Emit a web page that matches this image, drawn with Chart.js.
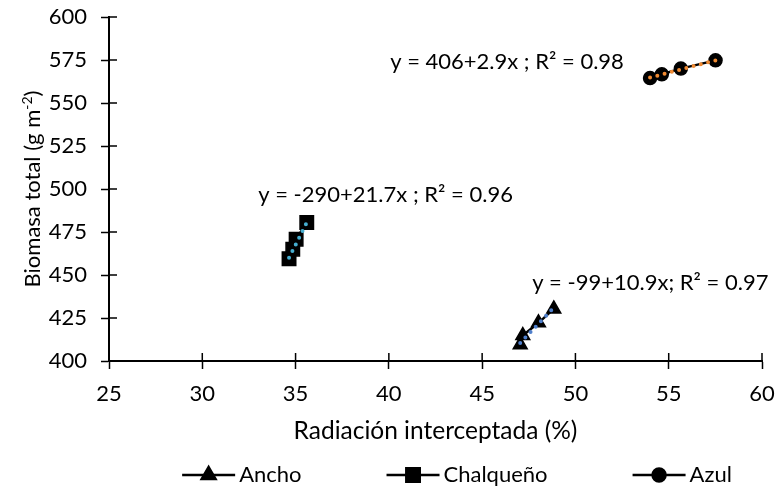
<!DOCTYPE html>
<html>
<head>
<meta charset="utf-8">
<script src="https://cdn.jsdelivr.net/npm/chart.js@4.4.0/dist/chart.umd.min.js"></script>
<style>
  html, body { margin: 0; padding: 0; background: #fff; }
  #wrap { width: 776px; height: 488px; }
</style>
</head>
<body>
<div id="wrap"><canvas id="biomasaChart"></canvas></div>
<script>
// Series names
const seriesNames = ['Ancho', 'Chalqueño', 'Azul'];

// Ancho
const anchoX = [47.04, 47.18, 48.02, 48.84];
const anchoY = [409.5, 414.8, 422.2, 430.3];
// Chalqueño
const chalX = [34.65, 34.85, 35.03, 35.6];
const chalY = [459.5, 465, 470.8, 480.5];
// Azul
const azulX = [54.0, 54.63, 55.65, 57.51];
const azulY = [564.5, 566.7, 570.0, 574.8];

// trend line end points
const anchoTrendX = [47.04, 48.84];
const anchoTrendY = [410.5, 431];
const chalTrendX = [34.65, 35.6];
const chalTrendY = [460, 480.5];
const azulTrendX = [54.0, 57.51];
const azulTrendY = [564.8, 574.8];

// regression labels
const equations = ['y = -99+10.9x; R² = 0.97', 'y = -290+21.7x ; R² = 0.96', 'y = 406+2.9x ; R² = 0.98'];

// axis ticks
const xTicks = [25, 30, 35, 40, 45, 50, 55, 60];
const yTicks = [400, 425, 450, 475, 500, 525, 550, 575, 600];

const FONT = 'Lato';
const FS = 22;
Chart.defaults.font.family = FONT;
Chart.defaults.font.size = FS;
Chart.defaults.color = '#000';

function pts(xs, ys) {
  return xs.map((x, i) => ({ x: x, y: ys[i] }));
}

const markerStyles = ['triangle', 'rect', 'circle'];
const markerRadius = [8, 9.5, 6.5];
const trendColors = ['#4F7FCB', '#46AED0', '#F08A32'];

const seriesX = [anchoX, chalX, azulX];
const seriesY = [anchoY, chalY, azulY];
const trendX = [anchoTrendX, chalTrendX, azulTrendX];
const trendY = [anchoTrendY, chalTrendY, azulTrendY];

const datasets = [];
// trend lines first so they are painted over the markers
trendX.forEach((tx, i) => {
  datasets.push({
    label: seriesNames[i] + ' trend',
    data: pts(tx, trendY[i]),
    showLine: true,
    borderColor: trendColors[i],
    borderWidth: 4,
    borderDash: [0, 7.5],
    borderCapStyle: 'round',
    pointRadius: 0,
    fill: false
  });
});
seriesX.forEach((sx, i) => {
  datasets.push({
    label: seriesNames[i],
    data: pts(sx, seriesY[i]),
    showLine: true,
    borderColor: '#000',
    borderWidth: 2.5,
    pointStyle: markerStyles[i],
    pointRadius: markerRadius[i],
    pointBackgroundColor: '#000',
    pointBorderColor: '#000',
    pointBorderWidth: 1.5,
    fill: false
  });
});

// ticks that cross the axis line (the library only draws the outside half)
const crossTicks = {
  id: 'crossTicks',
  beforeDatasetsDraw(chart) {
    const { ctx, chartArea, scales } = chart;
    ctx.save();
    ctx.strokeStyle = '#000';
    ctx.lineWidth = 1.5;
    ctx.beginPath();
    xTicks.forEach(v => {
      const px = scales.x.getPixelForValue(v);
      ctx.moveTo(px, chartArea.bottom);
      ctx.lineTo(px, chartArea.bottom - 8);
    });
    yTicks.forEach(v => {
      const py = scales.y.getPixelForValue(v);
      ctx.moveTo(chartArea.left, py);
      ctx.lineTo(chartArea.left + 8, py);
    });
    ctx.stroke();
    ctx.restore();
  }
};

// regression equations next to each group
const eqLabels = {
  id: 'eqLabels',
  afterDatasetsDraw(chart, args, opts) {
    const { ctx, scales } = chart;
    ctx.save();
    ctx.font = FS + 'px ' + FONT;
    ctx.fillStyle = '#000';
    ctx.textBaseline = 'middle';
    ctx.textAlign = 'left';
    opts.anchors.forEach((a, i) => {
      ctx.fillText(equations[i], scales.x.getPixelForValue(a[0]), scales.y.getPixelForValue(a[1]));
    });
    ctx.restore();
  }
};

// y axis title with a superscript
const yTitle = {
  id: 'yTitle',
  afterDraw(chart, args, opts) {
    const { ctx, chartArea } = chart;
    const main1 = 'Biomasa total (g m';
    const sup = '-2';
    const main2 = ')';
    ctx.save();
    ctx.fillStyle = '#000';
    ctx.textBaseline = 'alphabetic';
    ctx.font = FS + 'px ' + FONT;
    const w1 = ctx.measureText(main1).width;
    const w3 = ctx.measureText(main2).width;
    ctx.font = '14px ' + FONT;
    const w2 = ctx.measureText(sup).width;
    const total = w1 + w2 + w3;
    ctx.translate(opts.x, (chartArea.top + chartArea.bottom) / 2);
    ctx.rotate(-Math.PI / 2);
    let x = -total / 2;
    const base = 7;
    ctx.font = FS + 'px ' + FONT;
    ctx.fillText(main1, x, base);
    x += w1;
    ctx.font = '14px ' + FONT;
    ctx.fillText(sup, x, base - 8);
    x += w2;
    ctx.font = FS + 'px ' + FONT;
    ctx.fillText(main2, x, base);
    ctx.restore();
  }
};

// legend: line with marker, then the name
const lineLegend = {
  id: 'lineLegend',
  afterDraw(chart, args, opts) {
    const { ctx } = chart;
    const lineW = 53, gapText = 4, gapItem = 85;
    ctx.save();
    ctx.font = FS + 'px ' + FONT;
    const widths = seriesNames.map(n => lineW + gapText + ctx.measureText(n).width);
    const total = widths.reduce((a, b) => a + b, 0) + gapItem * (widths.length - 1);
    let x = opts.centerX - total / 2;
    const y = opts.y;
    seriesNames.forEach((n, i) => {
      ctx.strokeStyle = '#000';
      ctx.lineWidth = 2.5;
      ctx.beginPath();
      ctx.moveTo(x, y);
      ctx.lineTo(x + lineW, y);
      ctx.stroke();
      ctx.fillStyle = '#000';
      Chart.helpers.drawPoint(ctx, {
        pointStyle: markerStyles[i],
        radius: markerRadius[i],
        borderWidth: 1.5,
        rotation: 0
      }, x + lineW / 2, y);
      ctx.fillStyle = '#000';
      ctx.textBaseline = 'middle';
      ctx.textAlign = 'left';
      ctx.fillText(n, x + lineW + gapText, y);
      x += widths[i] + gapItem;
    });
    ctx.restore();
  }
};

const biomasaCanvas = document.getElementById('biomasaChart');

const biomasaChart = new Chart(biomasaCanvas, {
  type: 'scatter',
  data: { datasets: datasets },
  options: {
    responsive: true,
    maintainAspectRatio: false,
    animation: false,
    layout: { padding: { top: 17, right: 14, bottom: 40, left: 0 } },
    plugins: {
      legend: { display: false },
      tooltip: { enabled: false },
      eqLabels: { anchors: [[47.68, 445.2], [33.0, 496.4], [40.07, 573.8]] },
      yTitle: { x: 33 },
      lineLegend: { centerX: 457, y: 475 }
    },
    scales: {
      x: {
        type: 'linear',
        min: 25,
        max: 60,
        afterBuildTicks(scale) { scale.ticks = xTicks.map(v => ({ value: v })); },
        afterFit(scale) {
          scale.height = 87;
          scale.paddingLeft = 0;
          scale.paddingRight = 0;
        },
        border: { display: true, color: '#000', width: 2 },
        grid: { display: true, drawOnChartArea: false, drawTicks: true, tickLength: 8, tickColor: '#000', tickWidth: 1.5 },
        ticks: { padding: 12, color: '#000', font: { size: FS } },
        title: {
          display: true,
          text: 'Radiación interceptada (%)',
          color: '#000',
          font: { size: 24.5 },
          padding: { top: 0, bottom: 2 }
        }
      },
      y: {
        type: 'linear',
        min: 400,
        max: 600,
        afterBuildTicks(scale) { scale.ticks = yTicks.map(v => ({ value: v })); },
        afterFit(scale) {
          scale.width = 109;
          scale.paddingTop = 0;
          scale.paddingBottom = 0;
        },
        border: { display: true, color: '#000', width: 2 },
        grid: { display: true, drawOnChartArea: false, drawTicks: true, tickLength: 8, tickColor: '#000', tickWidth: 1.5 },
        ticks: { padding: 14, color: '#000', font: { size: FS } }
      }
    }
  },
  plugins: [crossTicks, eqLabels, yTitle, lineLegend]
});
</script>
</body>
</html>
